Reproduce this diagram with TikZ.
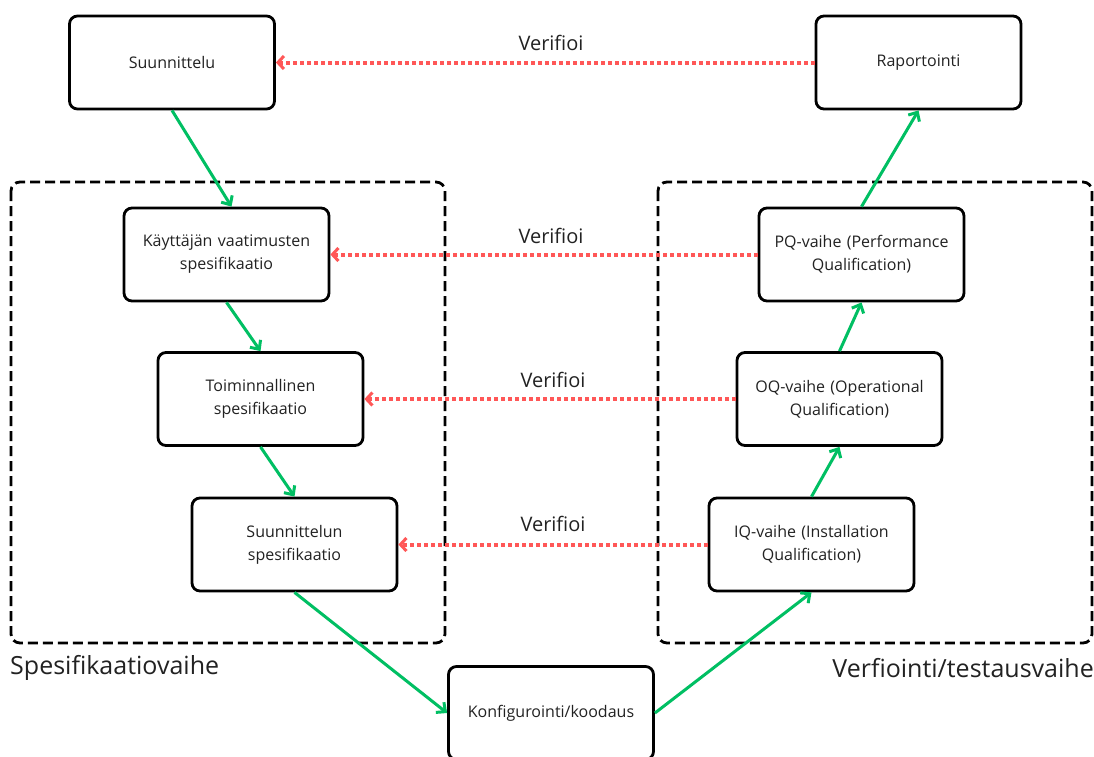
\documentclass[tikz,border=0pt]{standalone}
\usepackage{fontspec}
\setmainfont{Open Sans}
\usetikzlibrary{arrows.meta}
\definecolor{vgreen}{HTML}{00BF63}
\definecolor{vred}{HTML}{FF5757}
\definecolor{vtext}{HTML}{222222}
\begin{document}
\begin{tikzpicture}[x=1pt,y=-1pt,
  box/.style={draw=black,line width=2.8pt,rounded corners=8pt,fill=white,
    minimum width=205pt,minimum height=93pt,align=center,inner sep=2pt,
    text width=195pt,font=\fontsize{16}{23}\selectfont,text=vtext},
  phase/.style={draw=black,line width=2.8pt,rounded corners=9pt,
    dash pattern=on 10pt off 5pt},
  flow/.style={draw=vgreen,line width=3pt,
    -{Straight Barb[length=7pt,width=13pt,line width=3pt]}},
  verif/.style={draw=vred,line width=4pt,dash pattern=on 4pt off 3pt,
    -{Straight Barb[length=6pt,width=13pt,line width=3pt]}},
  vlabel/.style={font=\fontsize{20}{24}\selectfont,text=vtext},
  plabel/.style={font=\fontsize{25}{30}\selectfont,text=vtext,inner sep=0pt}]
\useasboundingbox (0,0) rectangle (1094,756);
\fill[white] (0,0) rectangle (1094,756);
% phase frames
\draw[phase] (11,182) rectangle (445,643);
\draw[phase] (658,182) rectangle (1092,643);
\node[plabel,anchor=west] (spl) at (10,668) {Spesifikaatiovaihe};
\node[plabel,anchor=east] (vpl) at (1094,668) {Verfiointi/testausvaihe};
% boxes
\node[box] (suun) at (172,62.5) {Suunnittelu};
\node[box] (rap) at (918.5,62.5) {Raportointi};
\node[box] (kay) at (226.5,254.5) {Käyttäjän vaatimusten\\spesifikaatio};
\node[box] (toi) at (260.5,399) {Toiminnallinen\\spesifikaatio};
\node[box] (sus) at (294.5,544.5) {Suunnittelun\\spesifikaatio};
\node[box] (kon) at (551,713) {Konfigurointi/koodaus};
\node[box] (pq) at (861.5,254.5) {PQ-vaihe (Performance\\Qualification)};
\node[box] (oq) at (839.5,399) {OQ-vaihe (Operational\\Qualification)};
\node[box] (iq) at (811.5,544.5) {IQ-vaihe (Installation\\Qualification)};
% green flow
\draw[flow] (suun.south) -- ([xshift=5pt]kay.north);
\draw[flow] (kay.south) -- (toi.north);
\draw[flow] (toi.south) -- (sus.north);
\draw[flow] (sus.south) -- (kon.west);
\draw[flow] (kon.east) -- (iq.south);
\draw[flow] (iq.north) -- (oq.south);
\draw[flow] (oq.north) -- (pq.south);
\draw[flow] (pq.north) -- (rap.south);
% red verification
\draw[verif] (rap.west) -- (suun.east);
\draw[verif] (pq.west) -- (kay.east);
\draw[verif] (oq.west) -- (toi.east);
\draw[verif] (iq.west) -- (sus.east);
\node[vlabel] (v1) at (551,43) {Verifioi};
\node[vlabel] (v2) at (551,236) {Verifioi};
\node[vlabel] (v3) at (553,380) {Verifioi};
\node[vlabel] (v4) at (553,524) {Verifioi};
\end{tikzpicture}
\end{document}
